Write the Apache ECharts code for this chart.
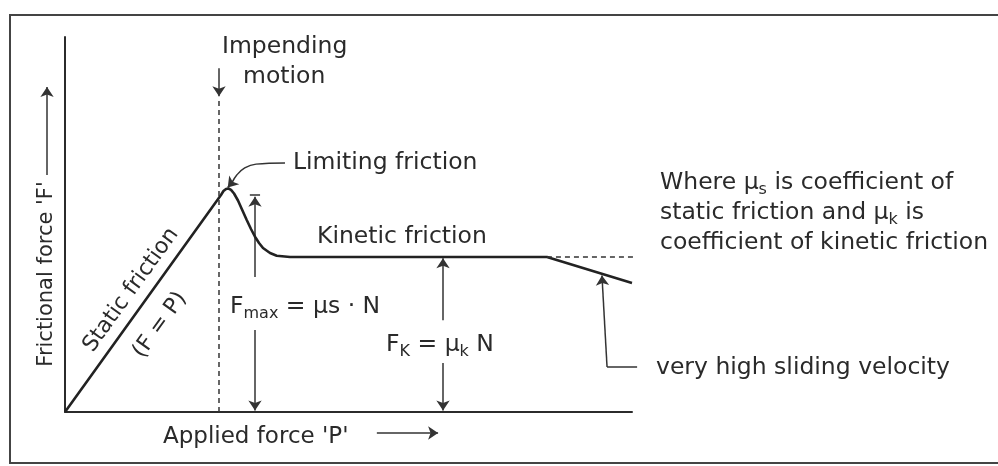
<!DOCTYPE html>
<html>
  <head>
    <meta charset="utf-8">
    <title>Frictional force vs applied force</title>
    <script src="https://cdn.jsdelivr.net/npm/echarts@6/dist/echarts.min.js"></script>
    <style>
      html, body { margin: 0; padding: 0; background: #fff; }
      #chart { width: 998px; height: 466px; }
    </style>
  </head>
  <body>
    <div id="chart"></div>
    <script type="text/javascript">

      // friction curve (x = applied force P, y = friction F)
      var curveX = [0, 27.51, 27.95, 28.40, 28.84, 29.28, 29.81, 30.51, 31.22, 32.05, 32.8, 33.51, 34.22, 34.92, 36.16, 37.34, 39.68, 85.0, 100];
      var curveY = [0, 57.87, 58.93, 59.47, 59.6, 59.25, 58.27, 56.4, 54.0, 51.2, 48.8, 46.75, 45.07, 43.73, 42.4, 41.68, 41.33, 41.33, 34.4];

      // dashed guides
      var impendX = [27.16, 27.16];
      var impendY = [0, 84];
      var kineticExtX = [85.0, 100.9];
      var kineticExtY = [41.33, 41.33];

      // leader to the peak
      var leaderX = [38.8, 33.7, 31.7, 30.3, 29.5];
      var leaderY = [66.4, 66.1, 65.1, 63.2, 61.3];

      // arrow segments [x1, y1, x2, y2], head at the second point
      var arrowSegs = [
        [27.16, 91.7, 27.16, 84.2],     // impending motion
        [33.51, 36.0, 33.51, 57.4],     // Fmax up
        [33.51, 21.9, 33.51, 0.4],      // Fmax down
        [66.67, 24.5, 66.67, 41.0],     // Fk up
        [66.67, 13.1, 66.67, 0.4],      // Fk down
        [29.5, 61.3, 28.7, 59.9],       // limiting friction tip
        [95.6, 12.0, 94.7, 36.4],       // very high sliding velocity
        [55.0, -5.6, 65.8, -5.6],       // x label arrow
        [-3.17, 63.2, -3.17, 86.7]      // y label arrow
      ];
      // plain segments, no heads
      var plainSegs = [
        [100.9, 12.0, 95.6, 12.0],      // very high leader
        [32.6, 58.0, 34.4, 58.0]        // Fmax top bar
      ];

      var font = 'DejaVu Sans';
      var ink = '#2a2a2a';

      function pairs(xs, ys){
        var out = [];
        for (var i = 0; i < xs.length; i++) out.push([xs[i], ys[i]]);
        return out;
      }

      function segs(list){
        var out = [];
        for (var i = 0; i < list.length; i++){
          var s = list[i];
          out.push({ coords: [[s[0], s[1]], [s[2], s[3]]] });
        }
        return out;
      }

      var rich = {
        n: { fontSize: 23.5, fontFamily: font, fill: ink, lineHeight: 30 },
        s: { fontSize: 16, fontFamily: font, fill: ink, lineHeight: 17, verticalAlign: 'bottom' }
      };

      function label(x, y, text, opts){
        opts = opts || {};
        return {
          type: 'text',
          x: x, y: y,
          rotation: opts.rot || 0,
          style: {
            text: text,
            rich: rich,
            fontSize: opts.size || 23.5,
            fontFamily: font,
            fill: ink,
            align: opts.align || 'left',
            verticalAlign: 'middle'
          }
        };
      }

      var ang = 54.2 * Math.PI / 180;

      var myChart = echarts.init(document.getElementById('chart'));
      myChart.setOption({
        animation: false,
        backgroundColor: '#fff',
        grid: { left: 65, top: 37, width: 567, height: 375 },
        xAxis: {
          type: 'value', min: 0, max: 100,
          axisLine: { show: true, lineStyle: { color: '#2b2b2b', width: 2 } },
          axisTick: { show: false }, axisLabel: { show: false }, splitLine: { show: false }
        },
        yAxis: {
          type: 'value', min: 0, max: 100,
          axisLine: { show: true, lineStyle: { color: '#2b2b2b', width: 2 } },
          axisTick: { show: false }, axisLabel: { show: false }, splitLine: { show: false }
        },
        series: [
          {
            type: 'line', data: pairs(curveX, curveY), showSymbol: false, symbol: 'none',
            lineStyle: { color: '#222', width: 2.6 }, clip: false
          },
          {
            type: 'line', data: pairs(impendX, impendY), symbol: 'none',
            lineStyle: { color: '#333', width: 1.5, type: [5, 4] }
          },
          {
            type: 'line', data: pairs(kineticExtX, kineticExtY), symbol: 'none', clip: false,
            lineStyle: { color: '#333', width: 1.5, type: [5, 4] }
          },
          {
            type: 'line', data: pairs(leaderX, leaderY), symbol: 'none', smooth: 0.4,
            lineStyle: { color: '#333', width: 1.5 }
          },
          {
            type: 'lines', coordinateSystem: 'cartesian2d', clip: false, silent: true,
            symbol: ['none', 'arrow'], symbolSize: 10,
            lineStyle: { color: '#333', width: 1.5, curveness: 0, opacity: 1 },
            data: segs(arrowSegs)
          },
          {
            type: 'lines', coordinateSystem: 'cartesian2d', clip: false, silent: true,
            symbol: ['none', 'none'],
            lineStyle: { color: '#333', width: 1.5, curveness: 0, opacity: 1 },
            data: segs(plainSegs)
          }
        ],
        graphic: [
          {
            type: 'rect', shape: { x: 10, y: 15, width: 1000, height: 448 },
            style: { fill: 'none', stroke: '#444', lineWidth: 2 }
          },
          label(222, 47, 'Impending'),
          label(243, 77, 'motion'),
          label(293, 163, 'Limiting friction'),
          label(317, 237, 'Kinetic friction'),
          label(230, 307, '{n|F}{s|max}{n| = μs · N}'),
          label(386, 345, '{n|F}{s|K}{n| = μ}{s|k}{n| N}'),
          label(660, 183, '{n|Where μ}{s|s}{n| is coefficient of}'),
          label(660, 213, '{n|static friction and μ}{s|k}{n| is}'),
          label(660, 243, '{n|coefficient of kinetic friction}'),
          label(656, 368, 'very high sliding velocity'),
          label(163, 437, "Applied force 'P'", { size: 23 }),
          label(47, 274, "Frictional force 'F'", { rot: Math.PI / 2, align: 'center', size: 21 }),
          label(131, 290, 'Static friction', { rot: ang, align: 'center', size: 22 }),
          label(160, 325, '(F = P)', { rot: ang, align: 'center', size: 22 })
        ]
      });
    </script>
  </body>
</html>
